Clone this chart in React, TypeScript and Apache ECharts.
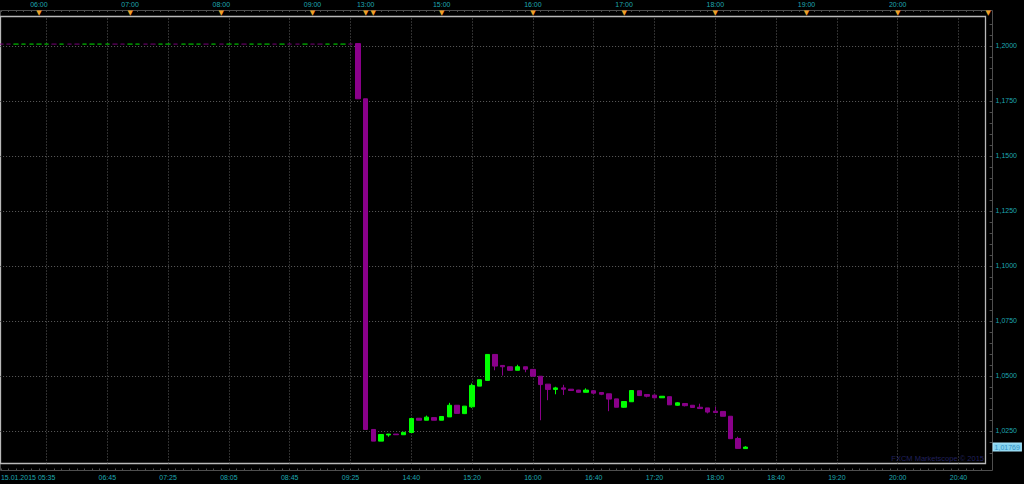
import React, { useEffect, useRef } from 'react';
import * as echarts from 'echarts';

// ---------- data ----------
const CATEGORY_COUNT = 130;
const categories: string[] = Array.from({ length: CATEGORY_COUNT }, (_, i) => String(i));

// [open, close, low, high]
const candles: number[][] = [
  [1.2009, 1.20085, 1.20085, 1.2009],
  [1.2009, 1.20085, 1.20085, 1.2009],
  [1.20085, 1.2009, 1.20085, 1.2009],
  [1.20085, 1.2009, 1.20085, 1.2009],
  [1.20085, 1.2009, 1.20085, 1.2009],
  [1.20085, 1.2009, 1.20085, 1.2009],
  [1.20085, 1.2009, 1.20085, 1.2009],
  [1.2009, 1.20085, 1.20085, 1.2009],
  [1.20085, 1.2009, 1.20085, 1.2009],
  [1.2009, 1.20085, 1.20085, 1.2009],
  [1.2009, 1.20085, 1.20085, 1.2009],
  [1.20085, 1.2009, 1.20085, 1.2009],
  [1.20085, 1.2009, 1.20085, 1.2009],
  [1.20085, 1.2009, 1.20085, 1.2009],
  [1.20085, 1.2009, 1.20085, 1.2009],
  [1.2009, 1.20085, 1.20085, 1.2009],
  [1.2009, 1.20085, 1.20085, 1.2009],
  [1.20085, 1.2009, 1.20085, 1.2009],
  [1.20085, 1.2009, 1.20085, 1.2009],
  [1.2009, 1.20085, 1.20085, 1.2009],
  [1.2009, 1.20085, 1.20085, 1.2009],
  [1.20085, 1.2009, 1.20085, 1.2009],
  [1.20085, 1.2009, 1.20085, 1.2009],
  [1.2009, 1.20085, 1.20085, 1.2009],
  [1.20085, 1.2009, 1.20085, 1.2009],
  [1.20085, 1.2009, 1.20085, 1.2009],
  [1.20085, 1.2009, 1.20085, 1.2009],
  [1.2009, 1.20085, 1.20085, 1.2009],
  [1.20085, 1.2009, 1.20085, 1.2009],
  [1.2009, 1.20085, 1.20085, 1.2009],
  [1.20085, 1.2009, 1.20085, 1.2009],
  [1.20085, 1.2009, 1.20085, 1.2009],
  [1.2009, 1.20085, 1.20085, 1.2009],
  [1.20085, 1.2009, 1.20085, 1.2009],
  [1.20085, 1.2009, 1.20085, 1.2009],
  [1.20085, 1.2009, 1.20085, 1.2009],
  [1.2009, 1.20085, 1.20085, 1.2009],
  [1.20085, 1.2009, 1.20085, 1.2009],
  [1.2009, 1.20085, 1.20085, 1.2009],
  [1.2009, 1.20085, 1.20085, 1.2009],
  [1.20085, 1.2009, 1.20085, 1.2009],
  [1.2009, 1.20085, 1.20085, 1.2009],
  [1.2009, 1.20085, 1.20085, 1.2009],
  [1.20085, 1.2009, 1.20085, 1.2009],
  [1.20085, 1.2009, 1.20085, 1.2009],
  [1.20085, 1.2009, 1.20085, 1.2009],
  [1.2009, 1.20085, 1.20085, 1.2009],
  [1.2011, 1.1760, 1.1760, 1.2011],
  [1.1760, 1.0257, 1.0257, 1.1760],
  [1.0257, 1.0204, 1.0204, 1.0257],
  [1.0204, 1.0234, 1.0204, 1.0234],
  [1.0232, 1.0236, 1.0224, 1.0237],
  [1.0236, 1.0233, 1.0233, 1.0236],
  [1.0233, 1.0244, 1.0233, 1.0244],
  [1.0243, 1.0307, 1.0243, 1.0307],
  [1.0308, 1.0299, 1.0299, 1.0308],
  [1.0299, 1.0313, 1.0299, 1.0320],
  [1.0311, 1.0299, 1.0299, 1.0311],
  [1.0299, 1.0316, 1.0299, 1.0316],
  [1.0314, 1.0367, 1.0314, 1.0378],
  [1.0367, 1.0330, 1.0330, 1.0367],
  [1.0329, 1.0363, 1.0327, 1.0363],
  [1.0360, 1.0457, 1.0355, 1.0466],
  [1.0454, 1.0483, 1.0454, 1.0483],
  [1.0480, 1.0598, 1.0480, 1.0598],
  [1.0598, 1.0545, 1.0526, 1.0598],
  [1.0548, 1.0542, 1.0502, 1.0548],
  [1.0542, 1.0526, 1.0526, 1.0542],
  [1.0526, 1.0542, 1.0526, 1.0551],
  [1.0542, 1.0531, 1.0517, 1.0542],
  [1.0530, 1.0499, 1.0499, 1.0530],
  [1.0499, 1.0461, 1.0299, 1.0499],
  [1.0463, 1.0439, 1.0390, 1.0463],
  [1.0439, 1.0446, 1.0417, 1.0451],
  [1.0446, 1.0440, 1.0414, 1.0460],
  [1.0440, 1.0434, 1.0432, 1.0441],
  [1.0436, 1.0426, 1.0424, 1.0437],
  [1.0426, 1.0436, 1.0426, 1.0444],
  [1.0433, 1.0422, 1.0421, 1.0434],
  [1.0425, 1.0417, 1.0413, 1.0427],
  [1.0419, 1.0395, 1.0340, 1.0419],
  [1.0396, 1.0358, 1.0358, 1.0396],
  [1.0358, 1.0384, 1.0356, 1.0384],
  [1.0383, 1.0434, 1.0383, 1.0434],
  [1.0433, 1.0411, 1.0411, 1.0433],
  [1.0416, 1.0408, 1.0403, 1.0418],
  [1.0413, 1.0401, 1.0398, 1.0415],
  [1.0401, 1.0408, 1.0401, 1.0408],
  [1.0406, 1.0369, 1.0369, 1.0406],
  [1.0367, 1.0378, 1.0365, 1.0381],
  [1.0375, 1.0365, 1.0362, 1.0375],
  [1.0367, 1.0357, 1.0357, 1.0367],
  [1.0358, 1.0352, 1.0352, 1.0374],
  [1.0355, 1.0336, 1.0330, 1.0355],
  [1.0340, 1.0334, 1.0334, 1.0360],
  [1.0339, 1.0317, 1.0317, 1.0339],
  [1.0317, 1.0215, 1.0215, 1.0317],
  [1.0216, 1.0171, 1.0171, 1.0224],
  [1.0170, 1.01769, 1.0170, 1.0181],
];
const FLAT_COUNT = 47; // pre-event quiet candles drawn dimmer

const lastPrice = 1.01769;

const bottomLabels: [number, string][] = [
  [0, '15.01.2015 05:35'], [14, '06:45'], [22, '07:25'], [30, '08:05'], [38, '08:45'],
  [46, '09:25'], [54, '14:40'], [62, '15:20'], [70, '16:00'], [78, '16:40'],
  [86, '17:20'], [94, '18:00'], [102, '18:40'], [110, '19:20'], [118, '20:00'], [126, '20:40'],
];
const gridColumns: number[] = [6, 14, 22, 30, 38, 46, 54, 62, 70, 78, 86, 94, 102, 110, 118, 126];

const topLabels: [number, string][] = [
  [5, '06:00'], [17, '07:00'], [29, '08:00'], [41, '09:00'], [48, '13:00'], [49, ''],
  [58, '15:00'], [70, '16:00'], [82, '17:00'], [94, '18:00'], [106, '19:00'], [118, '20:00'], [129, '>'],
];

const priceTicks: number[] = [1.025, 1.05, 1.075, 1.1, 1.125, 1.15, 1.175, 1.2];
const Y_MIN = 1.010227;
const Y_MAX = 1.213409;

// ---------- styles ----------
const LABEL_COLOR = '#1ea7b0';
const FONT = '"Liberation Sans", Arial, sans-serif';
const UP = '#00ff00';
const DOWN = '#8a008a';
const GRID_COLOR = '#5e5e5e';
const AXIS_COLOR = '#4e4e4e';

const fmt = (v: number, d = 4) => v.toFixed(d).replace('.', ',');

export default function App() {
  const ref = useRef<HTMLDivElement>(null);

  useEffect(() => {
    document.body.style.margin = '0';
    document.body.style.background = '#000';
    if (!ref.current) return;
    const chart = echarts.init(ref.current, undefined, { renderer: 'svg' });

    const bottomMap = new Map<number, string>(bottomLabels);
    const topMap = new Map<number, string>(topLabels);

    const minorTicks: number[] = [];
    for (let k = 203; k <= 242; k++) minorTicks.push(k * 0.005);

    const seriesData = candles.map((c, i) =>
      i < FLAT_COUNT ? { value: c, itemStyle: { opacity: 0.5 } } : { value: c }
    );

    const option: any = {
      backgroundColor: '#000',
      animation: false,
      grid: {
        left: -2.9,
        right: 38.9,
        top: 16.5,
        bottom: 20.5,
        containLabel: false,
        outerBoundsMode: 'none',
      },
      xAxis: [
        {
          type: 'category',
          data: categories,
          boundaryGap: true,
          position: 'bottom',
          offset: 7,
          axisLine: { show: false },
          axisTick: {
            show: true,
            inside: true,
            length: 2,
            interval: 0,
            alignWithLabel: true,
            lineStyle: { color: AXIS_COLOR },
          },
          axisLabel: {
            interval: (i: number) => bottomMap.has(i),
            formatter: (_v: string, i: number) => bottomMap.get(i) ?? '',
            color: LABEL_COLOR,
            fontSize: 7,
            fontFamily: FONT,
            margin: 3,
            alignMinLabel: 'left',
            hideOverlap: false,
          },
          splitLine: { show: false },
        },
        {
          type: 'category',
          data: categories,
          boundaryGap: true,
          position: 'top',
          offset: 6.5,
          axisLine: { show: false },
          axisTick: {
            show: true,
            inside: true,
            length: 2,
            interval: 0,
            alignWithLabel: true,
            lineStyle: { color: AXIS_COLOR },
          },
          axisLabel: {
            interval: (i: number) => topMap.has(i),
            formatter: (_v: string, i: number) => {
              const t = topMap.get(i) ?? '';
              if (t === '>') return '{t| }\n{m2|▼}';
              return `{t|${t || ' '}}\n{m|▼}`;
            },
            margin: -6,
            hideOverlap: false,
            rich: {
              t: { color: LABEL_COLOR, fontSize: 7, lineHeight: 9, fontFamily: FONT },
              m: { color: '#f0a028', fontSize: 7, lineHeight: 7, fontFamily: '"DejaVu Sans", sans-serif' },
              m2: {
                color: '#f0a028',
                fontSize: 7,
                lineHeight: 7,
                fontFamily: '"DejaVu Sans", sans-serif',
                padding: [0, 0, 0, 14],
              },
            },
          },
          splitLine: { show: false },
        },
      ],
      yAxis: [
        {
          type: 'value',
          position: 'right',
          min: Y_MIN,
          max: Y_MAX,
          offset: 7.5,
          axisLine: { show: false },
          splitLine: { show: false },
          axisTick: {
            show: true,
            inside: true,
            length: 3,
            customValues: minorTicks,
            lineStyle: { color: AXIS_COLOR },
          },
          axisLabel: {
            customValues: priceTicks,
            formatter: (v: number) => fmt(v),
            color: LABEL_COLOR,
            fontSize: 7,
            fontFamily: FONT,
            margin: 3,
          },
        },
        {
          type: 'value',
          position: 'right',
          min: Y_MIN,
          max: Y_MAX,
          offset: 7.5,
          axisLine: { show: false },
          splitLine: { show: false },
          axisTick: { show: false },
          axisLabel: {
            customValues: [lastPrice],
            formatter: (v: number) => fmt(v, 5),
            color: '#3590c0',
            backgroundColor: '#86d3f0',
            borderColor: '#a8e4fa',
            borderWidth: 1,
            padding: [0, 1, 0, 1],
            fontSize: 7,
            fontFamily: FONT,
            margin: 1,
          },
        },
      ],
      series: [
        {
          type: 'candlestick',
          xAxisIndex: 0,
          yAxisIndex: 0,
          data: seriesData,
          barWidth: 5,
          itemStyle: {
            color: UP,
            color0: DOWN,
            borderColor: UP,
            borderColor0: DOWN,
            borderWidth: 1,
          },
          markLine: {
            silent: true,
            symbol: ['none', 'none'],
            precision: 6,
            label: { show: false },
            z: 1,
            lineStyle: { color: GRID_COLOR, type: [1, 2], width: 1 },
            emphasis: { disabled: true },
            data: [
              ...gridColumns.map((i) => ({ xAxis: i })),
              ...priceTicks.map((p) => ({ yAxis: p })),
            ],
          },
        },
      ],
      graphic: [
        {
          type: 'rect',
          silent: true,
          shape: { x: 0.5, y: 10.5, width: 992, height: 460 },
          style: { fill: 'none', stroke: AXIS_COLOR, lineWidth: 1 },
        },
        {
          type: 'rect',
          silent: true,
          shape: { x: 0.5, y: 16.5, width: 985, height: 447 },
          style: { fill: 'none', stroke: '#b9b9b9', lineWidth: 1.3 },
        },
        {
          type: 'text',
          silent: true,
          x: 984,
          y: 462,
          style: {
            text: 'FXCM Marketscope © 2015',
            fill: '#20205e',
            fontSize: 7.5,
            fontFamily: FONT,
            align: 'right',
            verticalAlign: 'bottom',
          },
        },
      ],
    };

    chart.setOption(option);
    return () => chart.dispose();
  }, []);

  return (
    <div
      ref={ref}
      style={{ position: 'fixed', left: 0, top: 0, width: 1024, height: 484, background: '#000' }}
    />
  );
}
